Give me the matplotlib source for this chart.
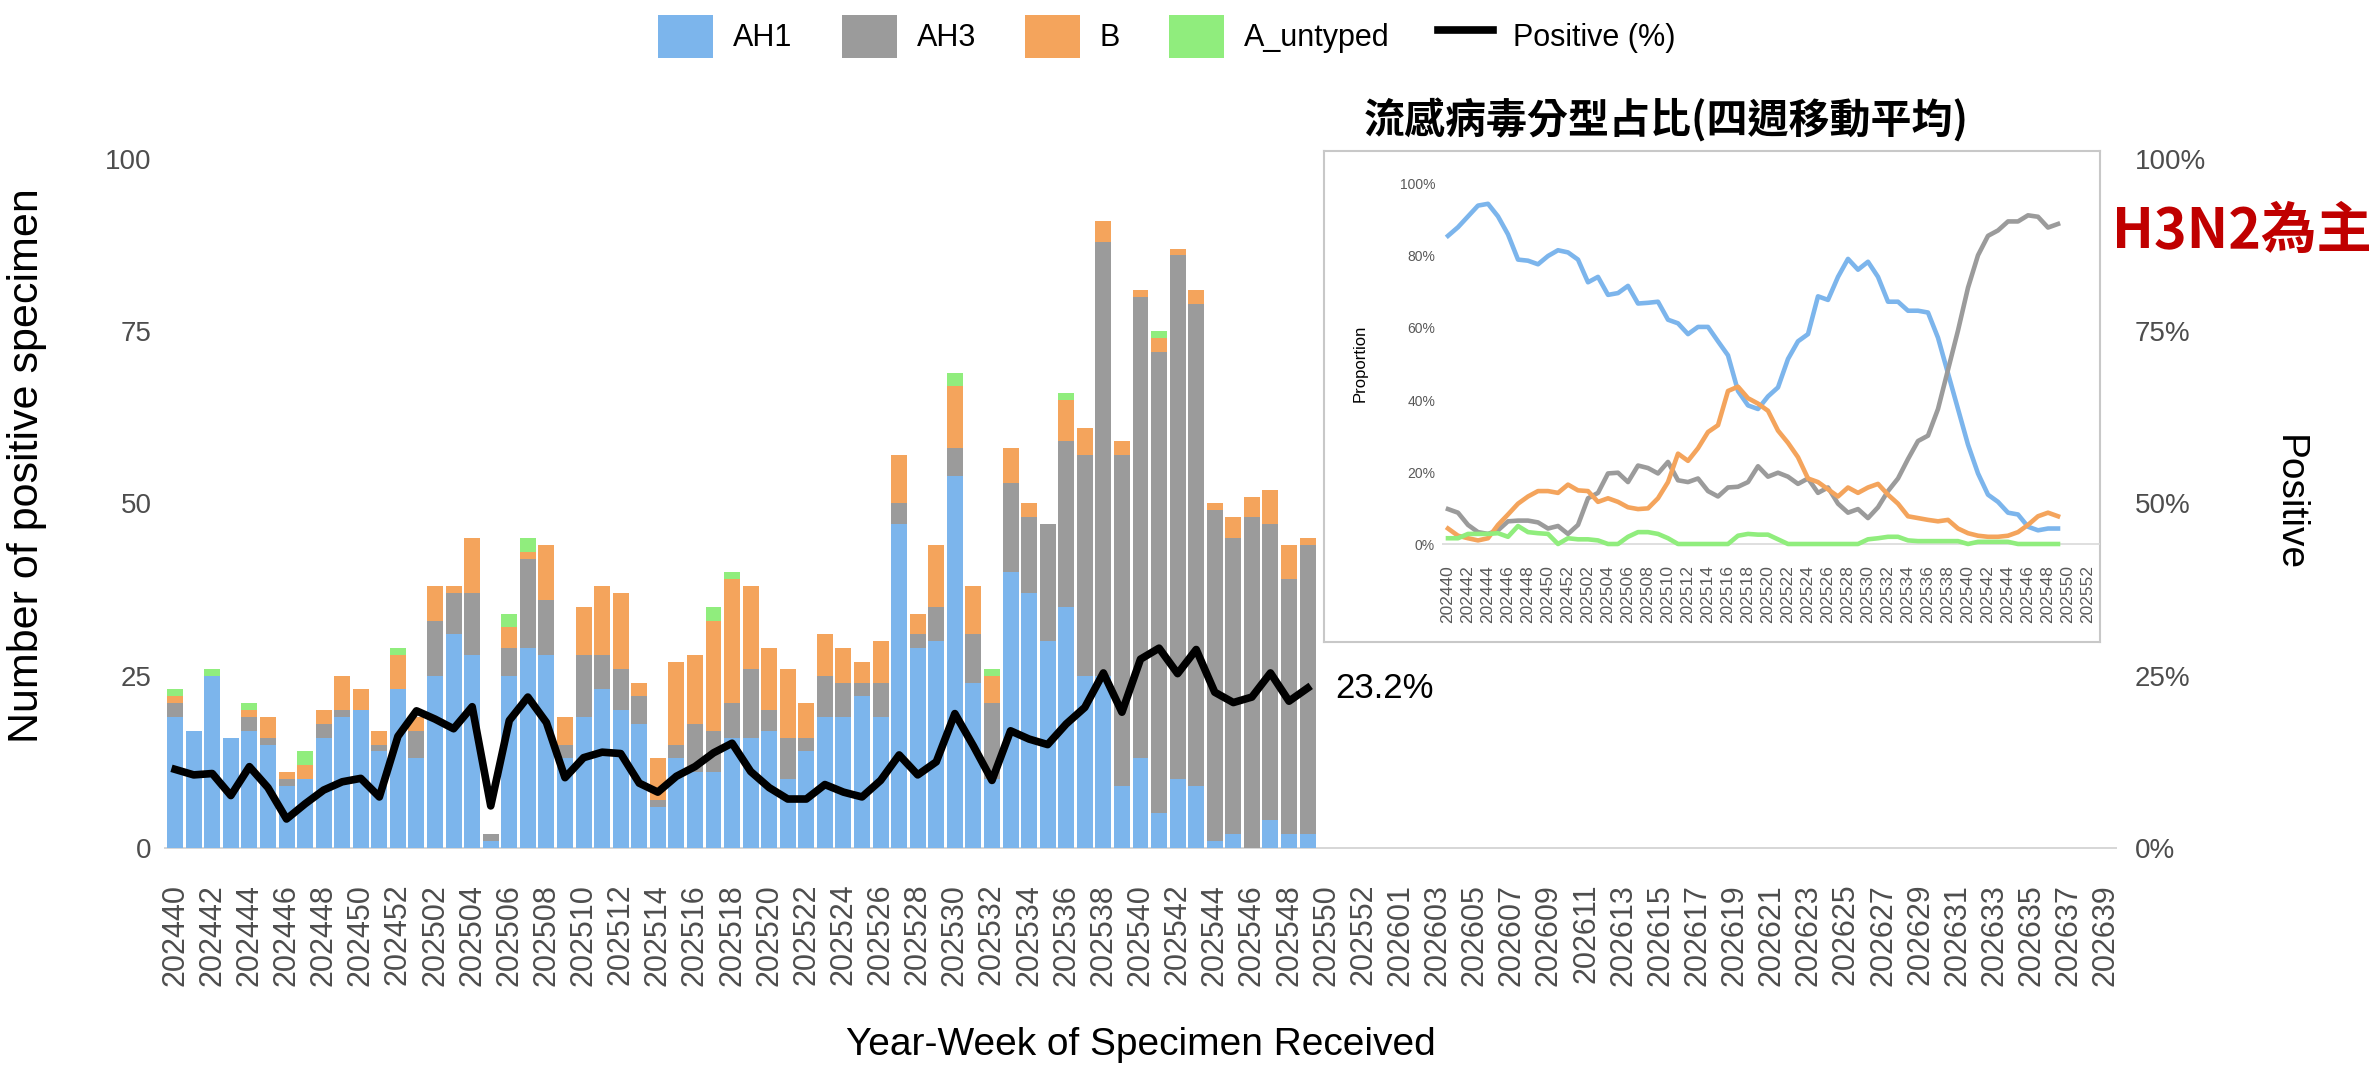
import numpy as np
import matplotlib.pyplot as plt

plt.rcParams['font.family'] = ['Liberation Sans', 'Noto Sans CJK TC', 'DejaVu Sans']

# categorías: semanas epidemiológicas 202440 ... 202639
weeks = ([f"2024{w:02d}" for w in range(40, 53)]
         + [f"2025{w:02d}" for w in range(1, 54)]
         + [f"2026{w:02d}" for w in range(1, 40)])

# positivos por semana (202440 - 202549)
ah1 = [19, 17, 25, 16, 17, 15, 9, 10, 16, 19, 20, 14, 23,
       13, 25, 31, 28, 1, 25, 29, 28, 13, 19, 23, 20, 18, 6, 13, 11, 11, 16, 16, 17,
       10, 14, 19, 19, 22, 19, 47, 29, 30, 54, 24, 10, 40, 37, 30, 35, 25, 25, 9, 13,
       5, 10, 9, 1, 2, 0, 4, 2, 2]
ah3 = [2, 0, 0, 0, 2, 1, 1, 0, 2, 1, 0, 1, 0,
       4, 8, 6, 9, 1, 4, 13, 8, 2, 9, 5, 6, 4, 1, 2, 7, 6, 5, 10, 3,
       6, 2, 6, 5, 2, 5, 3, 2, 5, 4, 7, 11, 13, 11, 17, 24, 32, 63, 48, 67,
       67, 76, 70, 48, 43, 48, 43, 37, 42]
b = [1, 0, 0, 0, 1, 3, 1, 2, 2, 5, 3, 2, 5,
     2, 5, 1, 8, 0, 3, 1, 8, 4, 7, 10, 11, 2, 6, 12, 10, 16, 18, 12, 9,
     10, 5, 6, 5, 3, 6, 7, 3, 9, 9, 7, 4, 5, 2, 0, 6, 4, 3, 2, 1,
     2, 1, 2, 1, 3, 3, 5, 5, 1]
a_untyped = [1, 0, 1, 0, 1, 0, 0, 2, 0, 0, 0, 0, 1,
             0, 0, 0, 0, 0, 2, 2, 0, 0, 0, 0, 0, 0, 0, 0, 0, 2, 1, 0, 0,
             0, 0, 0, 0, 0, 0, 0, 0, 0, 2, 0, 1, 0, 0, 0, 1, 0, 0, 0, 0,
             1, 0, 0, 0, 0, 0, 0, 0, 0]
positive = [11.4, 10.6, 10.8, 7.6, 11.8, 8.75, 4.2, 6.4, 8.4, 9.6, 10.1, 7.4, 16.2,
            19.9, 18.7, 17.3, 20.5, 6.1, 18.5, 21.9, 18.2, 10.2, 13.1, 13.9, 13.7, 9.4,
            8.1, 10.4, 11.8, 13.8, 15.2, 11.1, 8.75, 7.1, 7.1, 9.2, 8.1, 7.4, 9.8, 13.5,
            10.6, 12.5, 19.5, 14.8, 9.8, 17.0, 15.8, 15.0, 18.0, 20.4, 25.4, 19.7, 27.4,
            29.0, 25.3, 28.8, 22.6, 21.1, 21.9, 25.4, 21.3, 23.2]

# proporción (media móvil de 4 semanas), en %
p_ah1 = [85.6, 88, 91, 94, 94.5, 91, 86, 79, 78.7, 77.7, 80, 81.6, 81, 79, 72.7, 74.2,
         69.2, 69.7, 71.7, 66.8, 67, 67.3, 62.3, 61.3, 58.3, 60.3, 60.3, 56.3, 52.4, 42.5,
         38.5, 37.5, 41, 43.5, 51.4, 56.3, 58.3, 68.8, 67.8, 74.2, 79.2, 76.2, 78.4, 74.2,
         67.3, 67.3, 64.8, 64.8, 64.3, 57.3, 47.4, 37.5, 27.6, 19.6, 13.7, 11.7, 8.7, 8.2,
         4.8, 3.8, 4.3, 4.3]
p_ah3 = [9.7, 8.7, 5.3, 3.3, 2.8, 3.8, 6.3, 6.5, 6.5, 6.0, 4.3, 5.0, 2.8, 5.3, 12.7, 14.2,
         19.6, 19.8, 17.2, 21.8, 21.1, 19.6, 22.8, 17.7, 17.2, 18.2, 14.7, 13.2, 15.7, 15.9,
         17.2, 21.6, 18.7, 19.8, 18.7, 16.7, 18.2, 14.2, 15.7, 11.2, 8.7, 9.7, 7.2, 10.2,
         14.7, 18.2, 23.6, 28.6, 30.1, 37.5, 48.4, 59.3, 71.2, 80.2, 85.6, 87.1, 89.6, 89.6,
         91.3, 90.9, 87.9, 88.9]
p_b = [4.3, 2.3, 1.6, 1.0, 1.6, 5.3, 8.2, 11.2, 13.2, 14.7, 14.7, 14.2, 16.5, 14.9, 14.7,
       11.7, 12.7, 11.7, 10.2, 9.7, 9.9, 12.7, 17.2, 25.1, 23.1, 26.6, 31.1, 33.0, 42.5, 43.7,
       40.5, 39.0, 37.0, 31.5, 28.1, 24.1, 18.2, 17.2, 15.2, 13.2, 15.7, 14.2, 15.7, 16.7,
       13.7, 11.2, 7.7, 7.2, 6.7, 6.3, 6.7, 4.3, 3.0, 2.3, 2.0, 2.0, 2.3, 3.3, 5.3, 7.7,
       8.7, 7.7]
p_unt = [1.6, 1.6, 2.8, 2.8, 2.8, 3.0, 2.0, 5.0, 3.3, 3.0, 2.8, 0, 1.6, 1.3, 1.3, 1.0, 0, 0,
         2.0, 3.3, 3.3, 2.8, 1.6, 0, 0, 0, 0, 0, 0, 2.3, 2.8, 2.6, 2.6, 1.3, 0, 0, 0, 0, 0,
         0, 0, 0, 1.3, 1.6, 2.0, 2.0, 1.0, 0.8, 0.8, 0.8, 0.8, 0.8, 0, 0.6, 0.6, 0.6, 0.6,
         0, 0, 0, 0, 0]

c_ah1, c_ah3, c_b, c_unt = '#7cb5ec', '#9b9b9b', '#f4a45c', '#90ed7d'
W, H = 2369, 1065

fig = plt.figure(figsize=(W / 100, H / 100), dpi=100)

# Barras apiladas
ax = fig.add_axes([164 / W, 1 - 881 / H, (2117 - 164) / W, (881 - 159) / H])
x = np.arange(len(ah1))
bot = np.zeros(len(ah1))
bars = []
for vals, col in [(ah1, c_ah1), (ah3, c_ah3), (b, c_b), (a_untyped, c_unt)]:
    bars.append(ax.bar(x, vals, 0.86, bottom=bot, color=col, linewidth=0))
    bot = bot + np.array(vals)
ax.axhline(0, color='#d0d0d0', lw=1.2, zorder=0)
ax.set_xlim(-0.6, len(weeks) - 0.4)
ax.set_ylim(-4.8, 100)
ax.set_yticks([0, 25, 50, 75, 100])
ax.set_xticks(np.arange(0, len(weeks), 2))
ax.set_xticklabels(weeks[::2], rotation=90)
ax.tick_params(axis='y', length=0, pad=9, labelsize=20, labelcolor='#4d4d4d')
ax.tick_params(axis='x', length=0, pad=2, labelsize=22, labelcolor='#4d4d4d')
for s in ax.spines.values():
    s.set_visible(False)

# Linea de % positivo
ax2 = ax.twinx()
ax2.set_ylim(-4.8, 100)
line, = ax2.plot(x, positive, color='black', lw=5.5)
ax2.text(x[-1] + 1.5, positive[-1], f"{positive[-1]:.1f}%", fontsize=25, va='center', ha='left')
ax2.set_yticks([0, 25, 50, 75, 100])
ax2.set_yticklabels(['0%', '25%', '50%', '75%', '100%'])
ax2.tick_params(axis='y', length=0, pad=13, labelsize=20, labelcolor='#4d4d4d')
for s in ax2.spines.values():
    s.set_visible(False)

fig.text(0.4816, 0.0188, 'Year-Week of Specimen Received', fontsize=28, ha='center', va='center')
fig.text(0.0114, 0.563, 'Number of positive specimen', fontsize=31, rotation=90, ha='center', va='center')
fig.text(0.9663, 0.5277, 'Positive', fontsize=28, rotation=270, ha='center', va='center')

fig.legend(handles=bars + [line], labels=['AH1', 'AH3', 'B', 'A_untyped', 'Positive (%)'],
           loc='center', bbox_to_anchor=(0.4926, 0.966), ncol=5, frameon=False, fontsize=22,
           handlelength=1.8, handleheight=1.8, handletextpad=0.65, columnspacing=1.6)

# Recuadro del inset
box = fig.add_axes([1324 / W, 1 - 642 / H, (2100 - 1324) / W, (642 - 151) / H])
box.set_xticks([])
box.set_yticks([])
for s in box.spines.values():
    s.set_color('#c8c8c8')
    s.set_linewidth(1.5)

ax_in = fig.add_axes([1442 / W, 1 - 562 / H, (2100 - 1442) / W, (562 - 184) / H])
ax_in.patch.set_alpha(0)
xi = np.arange(len(p_ah1))
ax_in.axhline(0, color='#d9d9d9', lw=1.2, zorder=0)
ax_in.plot(xi, p_ah1, color=c_ah1, lw=3.3)
ax_in.plot(xi, p_ah3, color=c_ah3, lw=3.3)
ax_in.plot(xi, p_b, color=c_b, lw=3.3)
ax_in.plot(xi, p_unt, color=c_unt, lw=3.3)
ax_in.set_xlim(-0.6, 65.2)
ax_in.set_ylim(-5, 100)
ax_in.set_yticks([0, 20, 40, 60, 80, 100])
ax_in.set_yticklabels(['0%', '20%', '40%', '60%', '80%', '100%'])
ax_in.set_xticks(np.arange(0, 65, 2))
ax_in.set_xticklabels(weeks[0:65:2], rotation=90)
ax_in.tick_params(axis='y', length=0, pad=5, labelsize=10, labelcolor='#595959')
ax_in.tick_params(axis='x', length=0, pad=2, labelsize=12.5, labelcolor='#595959')
for s in ax_in.spines.values():
    s.set_visible(False)
fig.text(1360 / W, 1 - 363 / H, 'Proportion', fontsize=12, rotation=90, ha='center', va='center')

fig.text(1666 / W, 1 - 121 / H, '流感病毒分型占比(四週移動平均)', fontsize=29.5, fontweight='bold',
         family=['Noto Sans CJK TC', 'DejaVu Sans'], ha='center', va='center')
fig.text(2112 / W, 1 - 232 / H, 'H3N2為主', fontsize=40, fontweight='bold', color='#c00000',
         family=['Noto Sans CJK TC', 'DejaVu Sans'], ha='left', va='center')

plt.savefig('out.png', dpi=100)
plt.close()
